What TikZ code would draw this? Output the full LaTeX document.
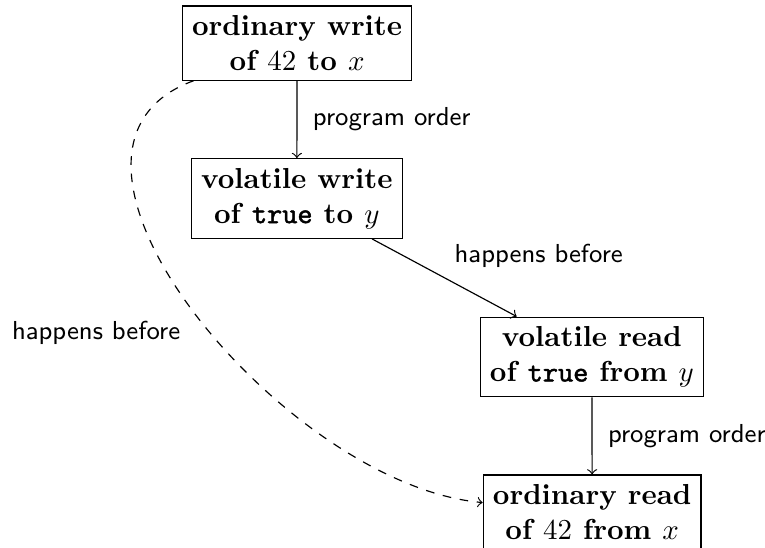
\documentclass[tikz,border=0pt]{standalone}
\usepackage{fontspec}
\newfontfamily\boldtt[FakeBold=1.6]{lmmono10-regular.otf}
\newcommand{\bttword}[1]{{\boldtt #1}}
\begin{document}
\begin{tikzpicture}[x=1pt,y=1pt,
  evbox/.style={draw, align=center, font=\bfseries, inner sep=3.33pt},
  lbl/.style={font=\sffamily\small},
  conn/.style={->}]
\useasboundingbox (0,0) rectangle (264.7,-189.6);
\node[evbox] (n1) at (102.8,-14.9) {ordinary write\\ of $42$ to $x$};
\node[evbox] (n2) at (102.7,-68.7) {volatile write\\ of \bttword{true} to $y$};
\node[evbox] (n3) at (204.8,-123.5) {volatile read\\ of \bttword{true} from $y$};
\node[evbox] (n4) at (204.9,-177.2) {ordinary read\\ of $42$ from $x$};
\draw[conn] (n1) -- node[lbl, midway, right, xshift=2pt] {program order} (n2);
\draw[conn] (n2) -- node[lbl, midway, above right] {happens before} (n3);
\draw[conn] (n3) -- node[lbl, midway, right, xshift=2pt] {program order} (n4);
\draw[conn, dashed] (n1) to[out=-160, in=175] node[lbl, pos=0.54, left, xshift=-7pt] {happens before} (n4);
\end{tikzpicture}
\end{document}
